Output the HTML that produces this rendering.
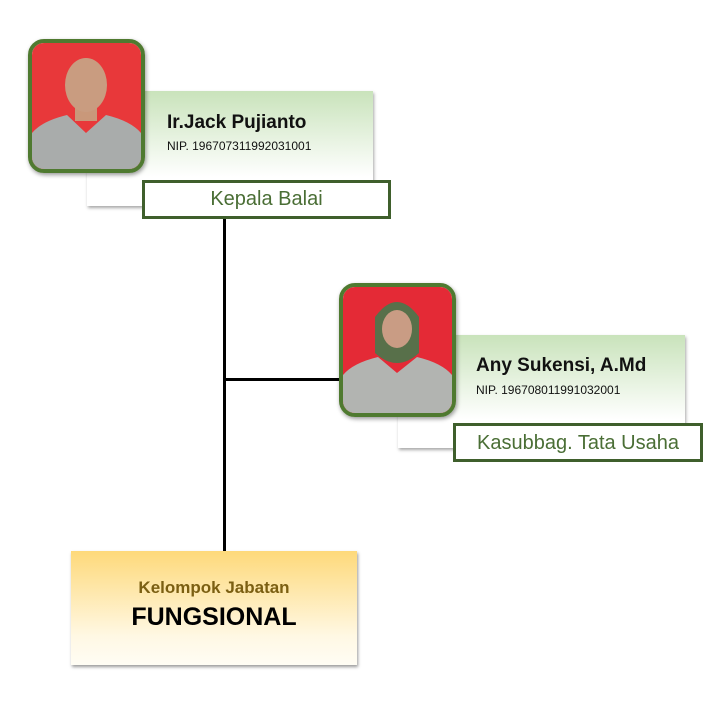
<!DOCTYPE html>
<html><head><meta charset="utf-8"><style>
body{margin:0;width:724px;height:720px;background:#fff;position:relative;overflow:hidden;font-family:"Liberation Sans",sans-serif}
.a{position:absolute}
.card{background:linear-gradient(#c9e3bb,#fff 75%);box-shadow:1px 2px 3px rgba(0,0,0,.35)}
.photo{border:4px solid #4f7a30;border-radius:16px;overflow:hidden;box-sizing:border-box;box-shadow:1px 2px 4px rgba(0,0,0,.4)}
.tbox{border:3px solid #3f5f2c;background:#fff;box-sizing:border-box;color:#4a6e35;font-size:20px;text-align:center}
.name{font-weight:bold;font-size:19px;color:#111}
.nip{font-size:12px;color:#111}
</style></head><body>
<div class="a" style="left:223px;top:216px;width:3px;height:336px;background:#000"></div>
<div class="a" style="left:223px;top:378px;width:120px;height:3px;background:#000"></div>

<div class="a card" style="left:87px;top:91px;width:286px;height:115px"></div>
<div class="a name" style="left:167px;top:112px">Ir.Jack Pujianto</div>
<div class="a nip" style="left:167px;top:139px">NIP. 196707311992031001</div>
<div class="a tbox" style="left:142px;top:180px;width:249px;height:39px;line-height:33px">Kepala Balai</div>
<div class="a photo" style="left:28px;top:39px;width:117px;height:134px">
<svg width="109" height="126" viewBox="0 0 109 126"><rect width="109" height="126" fill="#e8383a"/><path d="M0 90 Q10 78 35 72 L54 90 L74 72 Q99 78 109 90 V126 H0Z" fill="#a9acab"/><rect x="43" y="58" width="22" height="20" fill="#c9987a"/><ellipse cx="54" cy="42" rx="21" ry="27" fill="#c99c80"/></svg></div>

<div class="a card" style="left:398px;top:335px;width:287px;height:113px"></div>
<div class="a name" style="left:476px;top:355px">Any Sukensi, A.Md</div>
<div class="a nip" style="left:476px;top:383px">NIP. 196708011991032001</div>
<div class="a tbox" style="left:453px;top:423px;width:250px;height:39px;line-height:35px">Kasubbag. Tata Usaha</div>
<div class="a photo" style="left:339px;top:283px;width:117px;height:134px">
<svg width="109" height="126" viewBox="0 0 109 126"><rect width="109" height="126" fill="#e42a36"/><path d="M0 88 Q10 76 35 70 L54 86 L74 70 Q99 76 109 88 V126 H0Z" fill="#b2b4b1"/><path d="M32 30 Q54 0 76 30 L76 66 Q54 86 32 66Z" fill="#58704a"/><ellipse cx="54" cy="42" rx="15" ry="19" fill="#c99c84"/></svg></div>

<div class="a" style="left:71px;top:551px;width:286px;height:114px;background:linear-gradient(#fed97a,#fff8e4 75%,#fffdf4);box-shadow:1px 2px 3px rgba(0,0,0,.4)"></div>
<div class="a" style="left:71px;top:578px;width:286px;text-align:center;font-size:17px;font-weight:bold;color:#7b5f12">Kelompok Jabatan</div>
<div class="a" style="left:71px;top:603px;width:286px;text-align:center;font-size:25px;font-weight:bold;color:#000">FUNGSIONAL</div>
</body></html>
